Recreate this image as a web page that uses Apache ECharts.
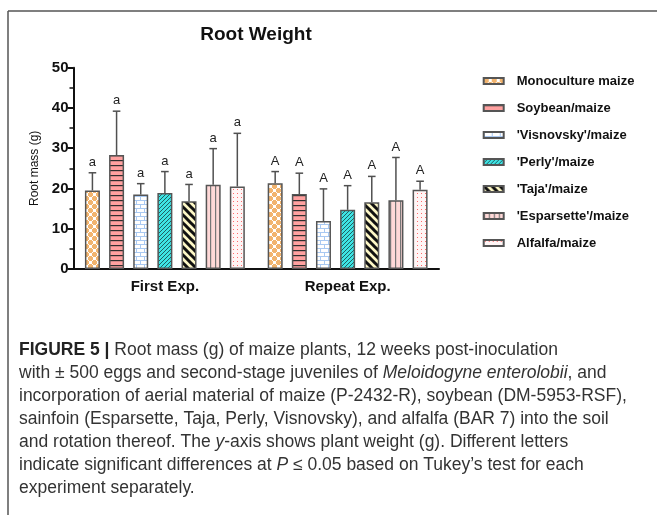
<!DOCTYPE html>
<html>
<head>
<meta charset="utf-8">
<script src="https://cdn.jsdelivr.net/npm/echarts@6/dist/echarts.min.js"></script>
<style>
html,body{margin:0;padding:0;background:#fff;}
#chart{width:657px;height:515px;}
</style>
</head>
<body>
<div id="chart"></div>
<script>
// ---- data ----
const categories = ['First Exp.', 'Repeat Exp.'];
const treatments = ['Monoculture maize', 'Soybean/maize', "'Visnovsky'/maize", "'Perly'/maize", "'Taja'/maize", "'Esparsette'/maize", 'Alfalfa/maize'];
const meanFirst  = [19.5, 28.3, 18.5, 18.9, 16.8, 20.9, 20.5];
const upperFirst = [23.9, 39.2, 21.2, 24.2, 21.0, 29.9, 33.7];
const meanRepeat  = [21.3, 18.6, 11.9, 14.7, 16.6, 17.1, 19.7];
const upperRepeat = [24.2, 23.8, 19.9, 20.7, 23.0, 27.7, 21.8];
const lettersFirst  = ['a', 'a', 'a', 'a', 'a', 'a', 'a'];
const lettersRepeat = ['A', 'A', 'A', 'A', 'A', 'A', 'A'];
const yTicks = [0, 10, 20, 30, 40, 50];

// ---- patterns ----
function pat(w, h, bg, draw) {
  const c = document.createElement('canvas');
  c.width = w; c.height = h;
  const ctx = c.getContext('2d');
  ctx.fillStyle = bg; ctx.fillRect(0, 0, w, h);
  draw(ctx, w, h);
  return { image: c, repeat: 'repeat' };
}
const patterns = [
  pat(8, 8, '#ffffff', (ctx) => {
    ctx.fillStyle = '#f2b46e';
    [[2, 2], [6, 6]].forEach(([cx, cy]) => {
      for (const dx of [-8, 0, 8]) for (const dy of [-8, 0, 8]) {
        ctx.fillRect(cx + dx - 2, cy + dy - 1, 5, 3);
        ctx.fillRect(cx + dx - 1, cy + dy - 2, 3, 5);
      }
    });
  }),
  pat(4, 5, '#ffa1a0', (ctx) => { ctx.fillStyle = '#2e2e2e'; ctx.fillRect(0, 0, 4, 1.2); }),
  pat(8, 8, '#ffffff', (ctx) => {
    ctx.fillStyle = '#a9c9f2';
    ctx.fillRect(0, 0, 8, 1); ctx.fillRect(0, 4, 8, 1);
    ctx.fillRect(0, 0, 1, 4); ctx.fillRect(4, 4, 1, 4);
  }),
  pat(4, 4, '#3ee4e4', (ctx) => {
    ctx.strokeStyle = '#1d4f52'; ctx.lineWidth = 0.9;
    ctx.beginPath();
    ctx.moveTo(-1, 5); ctx.lineTo(5, -1);
    ctx.moveTo(-1, 1); ctx.lineTo(1, -1);
    ctx.moveTo(3, 5); ctx.lineTo(5, 3);
    ctx.stroke();
  }),
  pat(8, 8, '#fdf7c6', (ctx) => {
    ctx.strokeStyle = '#111111'; ctx.lineWidth = 3;
    ctx.beginPath();
    ctx.moveTo(-2, -2); ctx.lineTo(10, 10);
    ctx.moveTo(-10, -2); ctx.lineTo(2, 10);
    ctx.moveTo(6, -2); ctx.lineTo(18, 10);
    ctx.stroke();
  }),
  pat(5, 4, '#ffd9d8', (ctx) => { ctx.fillStyle = '#777777'; ctx.fillRect(0, 0, 1.2, 4); }),
  pat(4, 4, '#fff5f5', (ctx) => { ctx.fillStyle = '#ff6a6a'; ctx.fillRect(1, 1, 1, 1); })
];

const BW = 15, GAPPCT = 0.61, GAP = BW * GAPPCT;

const barSeries = treatments.map((name, i) => ({
  name: name,
  type: 'bar',
  barWidth: BW,
  barGap: (GAPPCT * 100) + '%',
  data: [meanFirst[i], meanRepeat[i]],
  itemStyle: { color: patterns[i], borderColor: '#555555', borderWidth: 1.5 },
  emphasis: { disabled: true },
  z: 2
}));

const errData = [];
treatments.forEach((n, i) => {
  errData.push([0, meanFirst[i], upperFirst[i], i, lettersFirst[i]]);
  errData.push([1, meanRepeat[i], upperRepeat[i], i, lettersRepeat[i]]);
});

const errSeries = {
  type: 'custom',
  data: errData,
  z: 3,
  silent: true,
  encode: { x: 0, y: [1, 2] },
  renderItem: function (params, api) {
    const cat = api.value(0), mean = api.value(1), up = api.value(2), t = api.value(3);
    const letter = errData[params.dataIndex][4];
    const p0 = api.coord([cat, mean]);
    const p1 = api.coord([cat, up]);
    const x = p0[0] + (t - 3) * (BW + GAP);
    const half = 3.8;
    return {
      type: 'group',
      children: [
        { type: 'line', shape: { x1: x, y1: p0[1], x2: x, y2: p1[1] }, style: { stroke: '#505050', lineWidth: 1.5 } },
        { type: 'line', shape: { x1: x - half, y1: p1[1], x2: x + half, y2: p1[1] }, style: { stroke: '#505050', lineWidth: 1.5 } },
        { type: 'text', x: x, y: p1[1] - 4, style: { text: letter, textAlign: 'center', textVerticalAlign: 'bottom', font: '13px "Liberation Sans", Arial, sans-serif', fill: '#222' } }
      ]
    };
  }
};

const CAPSIZE = 17.5;
const capFont = CAPSIZE + 'px "Liberation Sans", Arial, sans-serif';
const captionLines = [
  '{b|FIGURE 5 |} Root mass (g) of maize plants, 12 weeks post-inoculation',
  'with ± 500 eggs and second-stage juveniles of {i|Meloidogyne enterolobii}, and',
  'incorporation of aerial material of maize (P-2432-R), soybean (DM-5953-RSF),',
  'sainfoin (Esparsette, Taja, Perly, Visnovsky), and alfalfa (BAR 7) into the soil',
  'and rotation thereof. The {i|y}-axis shows plant weight (g). Different letters',
  'indicate significant differences at {i|P} ≤ 0.05 based on Tukey’s test for each',
  'experiment separately.'
];
const captionGraphics = captionLines.map((t, k) => ({
  type: 'text',
  left: 19,
  top: 341 + k * 23,
  style: {
    text: t,
    font: capFont,
    fill: '#333333',
    rich: {
      b: { fontWeight: 'bold', fontSize: CAPSIZE, fontFamily: 'Liberation Sans', fill: '#222' },
      i: { fontStyle: 'italic', fontSize: CAPSIZE, fontFamily: 'Liberation Sans', fill: '#333' }
    }
  }
}));

const chart = echarts.init(document.getElementById('chart'), null, { renderer: 'canvas' });
chart.setOption({
  animation: false,
  backgroundColor: '#ffffff',
  grid: { left: 73.5, right: 218, top: 67.7, bottom: 246, containLabel: false },
  legend: {
    orient: 'vertical',
    left: 482.7,
    top: 73.5,
    padding: 0,
    itemWidth: 20,
    itemHeight: 6,
    itemGap: 12,
    icon: 'rect',
    selectedMode: false,
    data: treatments,
    textStyle: { fontFamily: 'Liberation Sans', fontWeight: 'bold', fontSize: 13, color: '#111', lineHeight: 15, padding: [0, 0, 0, 8] }
  },
  xAxis: {
    type: 'category',
    data: categories,
    axisLine: { lineStyle: { color: '#111', width: 2 } },
    axisTick: { alignWithLabel: true, length: 7, lineStyle: { color: '#111', width: 2 } },
    axisLabel: { fontFamily: 'Liberation Sans', fontWeight: 'bold', fontSize: 15, color: '#111', margin: 10 },
    splitLine: { show: false }
  },
  yAxis: {
    type: 'value',
    min: yTicks[0],
    max: yTicks[yTicks.length - 1],
    interval: 10,
    name: 'Root mass (g)',
    nameLocation: 'middle',
    nameGap: 31,
    nameRotate: 90,
    nameTextStyle: { fontFamily: 'Liberation Sans', fontSize: 12, color: '#111' },
    axisLine: { show: true, lineStyle: { color: '#111', width: 2 } },
    axisTick: { show: true, length: 6, lineStyle: { color: '#111', width: 2 } },
    minorTick: { show: true, splitNumber: 2, length: 4, lineStyle: { color: '#111', width: 1.5 } },
    axisLabel: { fontFamily: 'Liberation Sans', fontWeight: 'bold', fontSize: 15, color: '#111', margin: 5 },
    splitLine: { show: false }
  },
  graphic: [
    { type: 'line', shape: { x1: 8, y1: 11, x2: 657, y2: 11 }, style: { stroke: '#555', lineWidth: 1.5 } },
    { type: 'line', shape: { x1: 8, y1: 11, x2: 8, y2: 515 }, style: { stroke: '#555', lineWidth: 1.5 } },
    { type: 'text', x: 256, y: 35, style: { text: 'Root Weight', font: 'bold 19px "Liberation Sans", Arial, sans-serif', fill: '#111', textAlign: 'center', textVerticalAlign: 'middle' } }
  ].concat(captionGraphics),
  series: barSeries.concat([errSeries])
});
</script>
</body>
</html>
